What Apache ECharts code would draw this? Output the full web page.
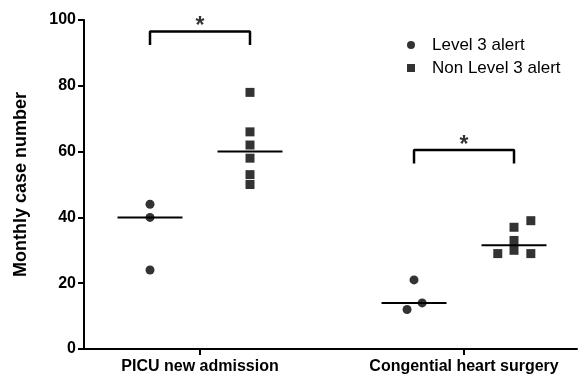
<!DOCTYPE html>
<html>
<head>
<meta charset="utf-8">
<script src="https://cdn.jsdelivr.net/npm/echarts@6/dist/echarts.min.js"></script>
<style>
  html, body { margin: 0; padding: 0; background: #fff; }
  #chart { width: 579px; height: 376px; }
</style>
</head>
<body>
<div id="chart"></div>
<script>
var categories = ['PICU new admission', 'Congential heart surgery'];
var seriesNames = ['Level 3 alert', 'Non Level 3 alert'];
var yTicks = [0, 20, 40, 60, 80, 100];

// monthly case numbers per group
var picuLevel3 = [44, 40, 24];
var picuNonLevel3 = [78, 66, 62, 58, 53, 50];
var chsLevel3 = [21, 14, 12];
var chsNonLevel3 = [39, 37, 33, 30, 29, 29];

// horizontal scatter of overlapping points (x units)
var picuLevel3Jit = [0, 0, 0];
var picuNonLevel3Jit = [0, 0, 0, 0, 0, 0];
var chsLevel3Jit = [0, 0.07, -0.06];
var chsNonLevel3Jit = [0.145, 0, 0, 0, -0.14, 0.145];

var centers = [1, 3.276];
var off = 0.431;
var font = 'Liberation Sans, Arial, Helvetica, sans-serif';

function pts(vals, jit, x) {
  return vals.map(function (v, i) { return [x + jit[i], v]; });
}
function median(a) {
  var s = a.slice().sort(function (p, q) { return p - q; });
  var m = Math.floor(s.length / 2);
  return s.length % 2 ? s[m] : (s[m - 1] + s[m]) / 2;
}
function medLine(vals, x) {
  var m = median(vals);
  return {
    type: 'line', data: [[x - 0.28, m], [x + 0.28, m]],
    symbol: 'none', silent: true,
    lineStyle: { color: '#000', width: 2 }, z: 1
  };
}
function bracket(x, lo, hi) {
  return {
    type: 'line', symbol: 'none', silent: true, z: 1,
    lineStyle: { color: '#000', width: 2.5 },
    data: [[x - off, lo], [x - off, hi], [x + off, hi], [x + off, lo]]
  };
}

var stars = {
  type: 'scatter', symbolSize: 1, silent: true,
  itemStyle: { color: 'rgba(0,0,0,0)' },
  label: { show: true, formatter: '*', position: 'inside',
    fontSize: 23, fontWeight: 'bold', color: '#000', fontFamily: font },
  data: [[centers[0], 96.5 + 1.4], [centers[1], 60.5 + 1.4]]
};

var chart = echarts.init(document.getElementById('chart'));
chart.setOption({
  animation: false,
  backgroundColor: '#fff',
  grid: { left: 84, right: 2, top: 20, bottom: 27, outerBoundsMode: 'none' },
  legend: {
    data: [
      { name: seriesNames[0], icon: 'circle' },
      { name: seriesNames[1], icon: 'rect' }
    ],
    orient: 'vertical', left: 402, top: 31,
    itemWidth: 8, itemHeight: 8, itemGap: 5,
    textStyle: { fontSize: 17, fontFamily: font, color: '#000', lineHeight: 18, padding: [0, 0, 0, 12] }
  },
  xAxis: {
    type: 'value', min: 0, max: 4.25,
    splitLine: { show: false },
    axisLine: { show: true, lineStyle: { color: '#000', width: 2 } },
    axisTick: { show: true, customValues: centers, length: 6, lineStyle: { color: '#000', width: 2 } },
    axisLabel: {
      customValues: centers, margin: 10,
      formatter: function (v) { return categories[centers.indexOf(v)]; },
      fontSize: 16, fontWeight: 'bold', color: '#000', fontFamily: font
    }
  },
  yAxis: {
    type: 'value', min: yTicks[0], max: yTicks[yTicks.length - 1], interval: 20,
    name: 'Monthly case number', nameLocation: 'middle', nameGap: 54,
    nameTextStyle: { fontSize: 18, fontWeight: 'bold', color: '#000', fontFamily: font },
    splitLine: { show: false },
    axisLine: { show: true, lineStyle: { color: '#000', width: 2 } },
    axisTick: { show: true, length: 6, lineStyle: { color: '#000', width: 2 } },
    axisLabel: { margin: 8, fontSize: 16, fontWeight: 'bold', color: '#000', fontFamily: font }
  },
  series: [
    {
      name: seriesNames[0], type: 'scatter', symbol: 'circle', symbolSize: 9, z: 3,
      itemStyle: { color: '#000' },
      data: pts(picuLevel3, picuLevel3Jit, centers[0] - off)
        .concat(pts(chsLevel3, chsLevel3Jit, centers[1] - off))
    },
    {
      name: seriesNames[1], type: 'scatter', symbol: 'rect', symbolSize: 9, z: 3,
      itemStyle: { color: '#000' },
      data: pts(picuNonLevel3, picuNonLevel3Jit, centers[0] + off)
        .concat(pts(chsNonLevel3, chsNonLevel3Jit, centers[1] + off))
    },
    medLine(picuLevel3, centers[0] - off),
    medLine(picuNonLevel3, centers[0] + off),
    medLine(chsLevel3, centers[1] - off),
    medLine(chsNonLevel3, centers[1] + off),
    bracket(centers[0], 92.4, 96.5),
    bracket(centers[1], 56.4, 60.5),
    stars
  ]
});
</script>
</body>
</html>
